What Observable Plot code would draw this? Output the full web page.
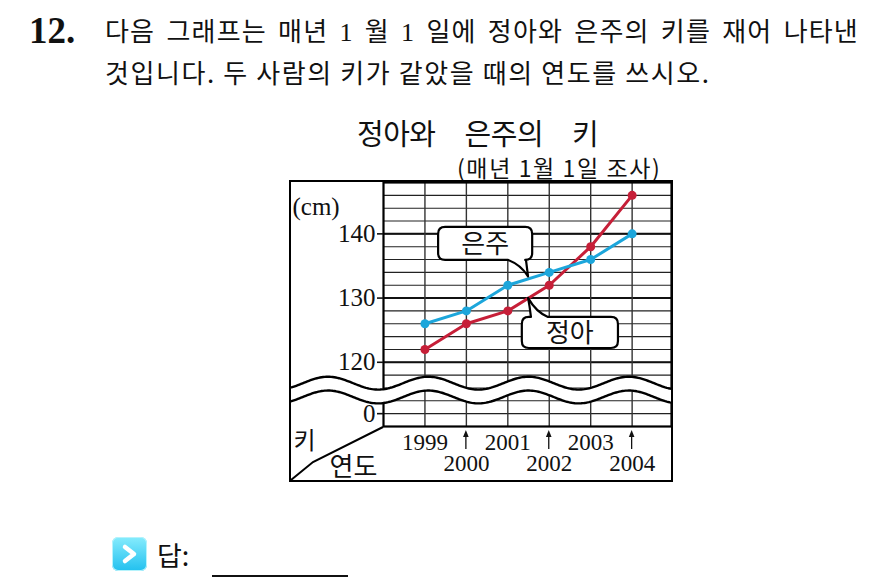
<!DOCTYPE html>
<html><head><meta charset="utf-8">
<script src="https://cdn.jsdelivr.net/npm/d3@7"></script>
<script src="https://cdn.jsdelivr.net/npm/@observablehq/plot@0.6"></script>
<style>
body{margin:0;background:#fff;width:884px;height:578px;overflow:hidden;position:relative;font-family:"Noto Sans CJK KR",sans-serif;color:#111}
.abs{position:absolute;white-space:nowrap}
.serif{font-family:"Liberation Serif",serif}
#chart{position:absolute;left:289px;top:180px;border:2px solid #000;width:380px;height:298px;line-height:0}
</style></head><body>
<div class="abs serif" style="left:29px;top:10px;font-weight:bold;font-size:37px;line-height:42px">12.</div>
<div class="abs" style="left:105px;top:12px;width:754px;font-size:26px;line-height:36px;letter-spacing:1.2px;text-align:justify;text-align-last:justify">다음 그래프는 매년 <span class="serif">1</span> 월 <span class="serif">1</span> 일에 정아와 은주의 키를 재어 나타낸</div>
<div class="abs" style="left:105px;top:54px;font-size:26px;line-height:36px;letter-spacing:1.6px">것입니다. 두 사람의 키가 같았을 때의 연도를 쓰시오.</div>
<div class="abs" style="left:357px;top:112px;font-size:29px;line-height:40px;letter-spacing:-0.5px;word-spacing:23px">정아와 은주의 키</div>
<div class="abs" style="left:457px;top:152px;font-size:23px;line-height:30px;letter-spacing:1.6px">(매년 1월 1일 조사)</div>
<div id="chart"></div>
<div class="abs" style="left:112px;top:537px;width:35px;height:34px;border-radius:6px;background:linear-gradient(#86ecfd,#22c0ef);box-shadow:inset 0 0 0 1px #b5f3fc"></div>
<svg class="abs" style="left:112px;top:537px" width="35" height="34"><polyline points="13,10 22,17 13,24" fill="none" stroke="#fff" stroke-width="4.5" stroke-linecap="round" stroke-linejoin="round"/></svg>
<div class="abs" style="left:157px;top:537px;font-size:27px;line-height:36px">답:</div>
<div class="abs" style="left:212px;top:575px;width:136px;height:2px;background:#111"></div>
<script>
// ---- data ----
const years = [1999, 2000, 2001, 2002, 2003, 2004];
const jeongah = [122, 126, 128, 132, 138, 146];   // 정아 (red)
const eunju   = [126, 128, 132, 134, 136, 140];   // 은주 (blue)
const yTickValues = [112, 120, 130, 140];         // 112 is the "0" position below the axis break
const yTickLabels = ["0", "120", "130", "140"];
const xLabelsUpper = [1999, 2001, 2003];
const xLabelsLower = [2000, 2002, 2004];
const seriesNames = ["정아", "은주"];

const RED = "#c61f38", BLUE = "#1ca6db";
const W = 380, H = 298, ML = 92, MB = 54;
const xDomain = [1998, 2004.95], yDomain = [110, 148];

const rowsJ = years.map((y, i) => ({year: y, h: jeongah[i]}));
const rowsE = years.map((y, i) => ({year: y, h: eunju[i]}));
const gridMinor = d3.range(yDomain[0], yDomain[1] + 1, 2);
const gridMajor = [120, 130, 140];

// axis-break wave (decoration)
const pxPerYear = (W - ML) / (xDomain[1] - xDomain[0]);
const waveX0 = xDomain[0] - ML / pxPerYear;
const wave = d3.range(0, 241).map(i => {
  const x = waveX0 + (xDomain[1] - waveX0) * i / 240;
  const c = Math.cos(2 * Math.PI * (x - 1996.66) / 2.42);
  return {x, top: 116.75 + 1.0 * c, bot: 114.6 + 1.0 * c};
});

const serif = "Liberation Serif";
const chart = Plot.plot({
  width: W, height: H, marginLeft: ML, marginRight: 0, marginTop: 0, marginBottom: MB,
  x: {domain: xDomain, axis: null},
  y: {domain: yDomain, axis: null},
  style: {background: "white", color: "#111", overflow: "visible"},
  marks: [
    Plot.ruleY(gridMinor, {stroke: "#222", strokeWidth: 1.1}),
    Plot.ruleY(gridMajor, {stroke: "#111", strokeWidth: 2}),
    Plot.ruleX(years, {stroke: "#333", strokeWidth: 1.4}),
    Plot.frame({stroke: "#000", strokeWidth: 2.2}),
    Plot.axisY({anchor: "left", ticks: yTickValues, tickFormat: d => yTickLabels[yTickValues.indexOf(d)],
      tickSize: 6, tickPadding: 2, fontSize: 25, fontFamily: serif, color: "#111", strokeWidth: 1.6}),
    Plot.areaY(wave, {x: "x", y1: "bot", y2: "top", fill: "white"}),
    Plot.line(wave, {x: "x", y: "top", stroke: "#000", strokeWidth: 2.4, curve: "linear"}),
    Plot.line(wave, {x: "x", y: "bot", stroke: "#000", strokeWidth: 2.4, curve: "linear"}),
    Plot.line(rowsJ, {x: "year", y: "h", stroke: RED, strokeWidth: 3}),
    Plot.dot(rowsJ, {x: "year", y: "h", fill: RED, r: 4.5}),
    Plot.line(rowsE, {x: "year", y: "h", stroke: BLUE, strokeWidth: 3}),
    Plot.dot(rowsE, {x: "year", y: "h", fill: BLUE, r: 4.5}),
    Plot.text(xLabelsUpper, {x: d => d, frameAnchor: "bottom", lineAnchor: "middle", dy: 16, text: d => String(d), fontSize: 23, fontFamily: serif, fill: "#111"}),
    Plot.text(xLabelsLower, {x: d => d, frameAnchor: "bottom", lineAnchor: "middle", dy: 37, text: d => String(d), fontSize: 23, fontFamily: serif, fill: "#111"}),
    Plot.text(["(cm)"], {frameAnchor: "top-left", lineAnchor: "middle", dx: -91, dy: 24, textAnchor: "start", text: d => d, fontSize: 25, fontFamily: serif, fill: "#111"}),
    Plot.text(["키"], {frameAnchor: "bottom-left", lineAnchor: "middle", dx: -90, dy: 15, textAnchor: "start", text: d => d, fontSize: 24, fontFamily: "Noto Sans CJK KR", fill: "#111"}),
    Plot.text(["연도"], {frameAnchor: "bottom-left", lineAnchor: "middle", dx: -30, dy: 41, textAnchor: "middle", text: d => d, fontSize: 26, fontFamily: "Noto Sans CJK KR", fill: "#111"})
  ]
});
document.getElementById("chart").appendChild(chart);

const svg = d3.select(chart);
const sx = chart.scale("x"), sy = chart.scale("y");
const yb = H - MB;
// diagonal in the corner cell
svg.append("path").attr("d", `M0,${H} L22,${H - 18} L${ML},${yb + 1}`)
  .attr("fill", "none").attr("stroke", "#000").attr("stroke-width", 2);
// upward arrows above the lower-row year labels
for (const yr of xLabelsLower) {
  const x = sx.apply(yr);
  svg.append("line").attr("x1", x).attr("x2", x).attr("y1", yb + 7).attr("y2", yb + 23)
    .attr("stroke", "#111").attr("stroke-width", 1.3);
  svg.append("path").attr("d", `M${x},${yb + 4} L${x - 2.8},${yb + 11} L${x + 2.8},${yb + 11} Z`).attr("fill", "#111");
}

// callouts anchored in data coordinates
const callouts = [
  {name: seriesNames[1], x1: 1999.33, x2: 2001.60, yTop: 141.0, yBot: 135.86, side: "bottom", tA: 2001.02, tB: 2001.45, tip: [2001.50, 133.3]},
  {name: seriesNames[0], x1: 2001.35, x2: 2003.67, yTop: 126.98, yBot: 122.15, side: "top", tA: 2001.57, tB: 2001.98, tip: [2001.50, 129.95]}
];
for (const c of callouts) {
  const L = sx.apply(c.x1), R = sx.apply(c.x2), T = sy.apply(c.yTop), B = sy.apply(c.yBot);
  const a = sx.apply(c.tA), b = sx.apply(c.tB), px = sx.apply(c.tip[0]), py = sy.apply(c.tip[1]);
  const r = 7;
  let d;
  if (c.side === "bottom") {
    d = `M${L + r},${T} H${R - r} Q${R},${T} ${R},${T + r} V${B - r} Q${R},${B} ${R - r},${B} H${b}` +
        ` Q${b + 1},${(B + py) / 2} ${px},${py} Q${(a + px) / 2 + 3},${B + 5} ${a},${B}` +
        ` H${L + r} Q${L},${B} ${L},${B - r} V${T + r} Q${L},${T} ${L + r},${T} Z`;
  } else {
    d = `M${L + r},${T} H${a} Q${a - 1},${(T + py) / 2} ${px},${py} Q${(b + px) / 2 - 2},${T - 5} ${b},${T}` +
        ` H${R - r} Q${R},${T} ${R},${T + r} V${B - r} Q${R},${B} ${R - r},${B} H${L + r} Q${L},${B} ${L},${B - r} V${T + r} Q${L},${T} ${L + r},${T} Z`;
  }
  svg.append("path").attr("d", d).attr("fill", "white").attr("stroke", "#000").attr("stroke-width", 2.2).attr("stroke-linejoin", "round");
  svg.append("text").attr("x", (L + R) / 2).attr("y", (T + B) / 2).attr("dy", "0.35em")
    .attr("text-anchor", "middle").attr("font-family", "Noto Sans CJK KR").attr("font-size", 26).attr("fill", "#111")
    .text(c.name);
}
</script>
</body></html>
